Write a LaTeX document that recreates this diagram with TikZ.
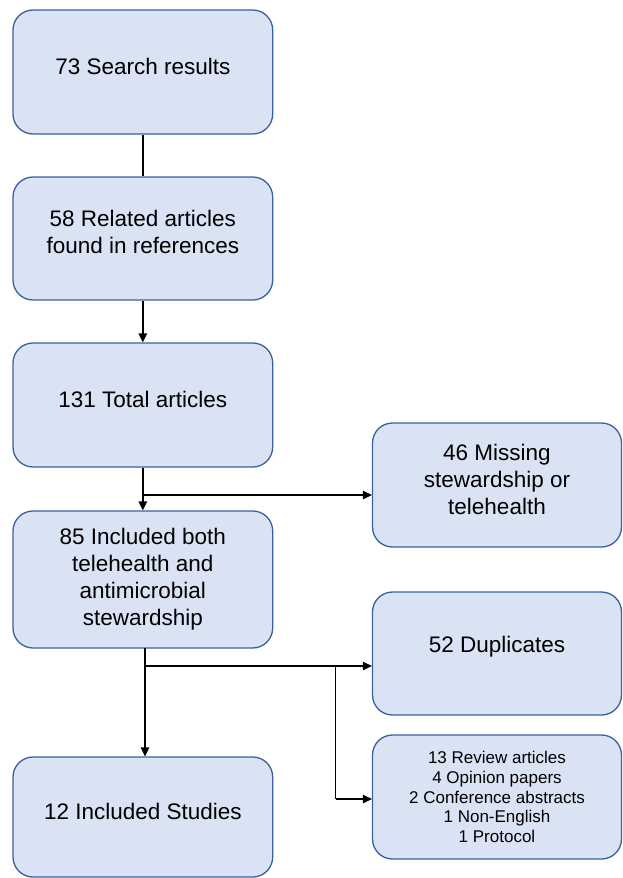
\documentclass[tikz,border=0pt]{standalone}
\usepackage{fontspec}
\setmainfont{Liberation Sans}
\usetikzlibrary{arrows.meta,calc}
\definecolor{boxfill}{HTML}{DAE3F3}
\definecolor{boxdraw}{HTML}{3A60A0}
\tikzset{
  box/.style={draw=boxdraw, fill=boxfill, line width=1.3pt, rounded corners=20pt,
    minimum width=259.7pt, inner sep=0pt},
  rbox/.style={box, minimum width=249pt},
  txt/.style={align=center, font=\fontsize{22.5}{27}\selectfont, inner sep=0pt},
  smalltxt/.style={align=center, font=\fontsize{17}{19.7}\selectfont, inner sep=0pt},
  conn/.style={line width=1.3pt, black},
  arr/.style={conn, -{Triangle[length=9pt,width=8.5pt]}},
}
\begin{document}
\begin{tikzpicture}[x=1pt,y=-1pt]
\useasboundingbox (0,0) rectangle (622,878);
\begin{scope}
\clip (0,0) rectangle (622,878);
% left column boxes
\node[box, minimum height=124pt] (b1) at (142.85,72) {};
\node[box, minimum height=123pt] (b2) at (142.85,238.5) {};
\node[box, minimum height=124pt] (b3) at (142.85,405) {};
\node[box, minimum height=137pt] (b4) at (142.85,579.5) {};
\node[box, minimum height=120pt] (b5) at (142.85,817) {};
% right column boxes
\node[rbox, minimum height=124pt] (r1) at (497,485) {};
\node[rbox, minimum height=123pt] (r2) at (497,653.5) {};
\node[rbox, minimum height=124pt] (r3) at (497,797) {};
\end{scope}
% texts
\node[txt] (t1) at ([yshift=6pt]b1.center) {73 Search results};
\node[txt] (t2) at ([yshift=7pt]b2.center) {58 Related articles\\found in references};
\node[txt] (t3) at ([yshift=6pt]b3.center) {131 Total articles};
\node[txt] (t4) at ([yshift=0pt]b4.center) {85 Included both\\telehealth and\\antimicrobial\\stewardship};
\node[txt] (t5) at ([yshift=6pt]b5.center) {12 Included Studies};
\node[txt] (t6) at ([yshift=6pt]r1.center) {46 Missing\\stewardship or\\telehealth};
\node[txt] (t7) at ([yshift=7pt]r2.center) {52 Duplicates};
\node[smalltxt] (t8) at (r3.center) {13 Review articles\\4 Opinion papers\\2 Conference abstracts\\1 Non-English\\1 Protocol};
% connectors
\coordinate (j1) at (142.85,495);
\coordinate (s4) at (145,648);
\coordinate (j2) at (145,666);
\coordinate (j3) at (335.7,666);
\coordinate (j4) at (335.7,799);
\draw[conn] (b1.south) -- (b2.north);
\draw[arr] (b2.south) -- (b3.north);
\draw[arr] (b3.south) -- (b4.north);
\draw[arr] (j1) -- (j1 -| r1.west);
\draw[arr] (s4) -- (s4 |- b5.north);
\draw[arr] (j2) -- (j2 -| r2.west);
\draw[conn] (j3) -- (j4);
\draw[arr] (j4) -- (j4 -| r3.west);
\end{tikzpicture}
\end{document}
